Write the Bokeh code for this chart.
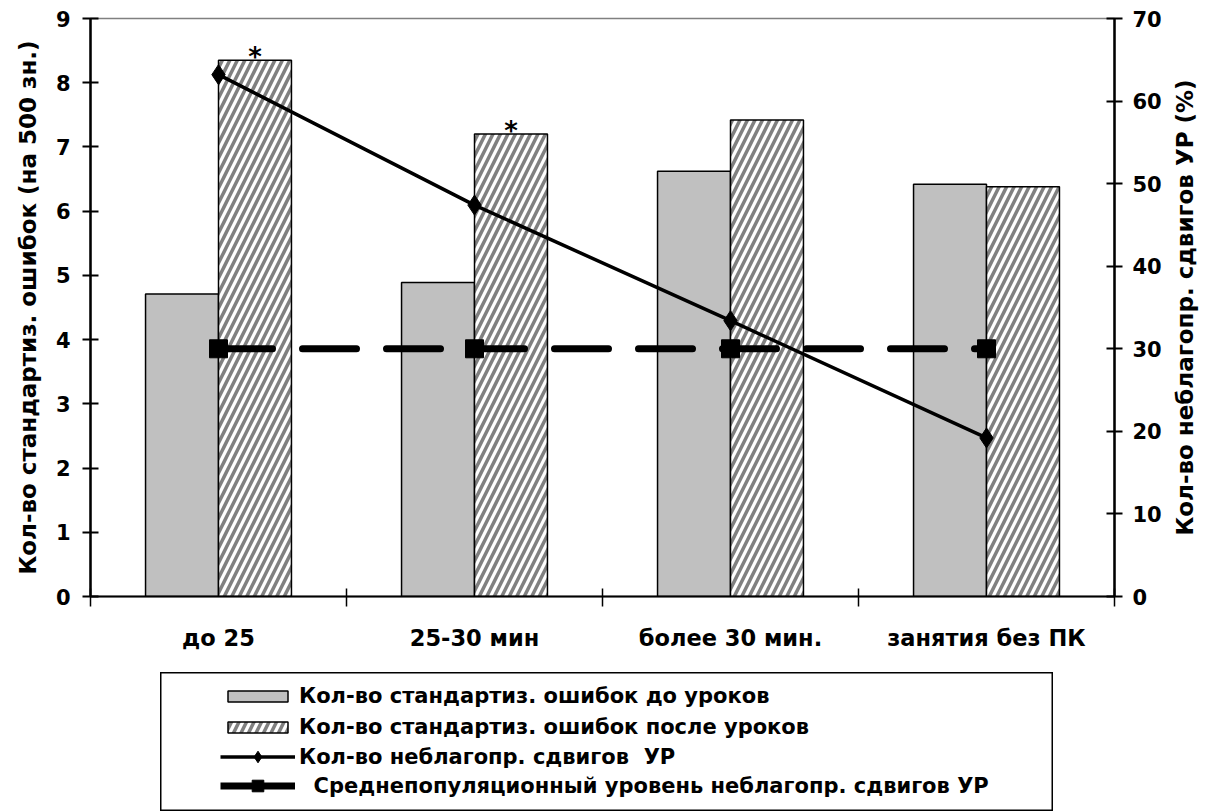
import math
from bokeh.plotting import figure
from bokeh.models import (Range1d, LinearAxis, FixedTicker, Legend, LegendItem,
                          ColumnDataSource, Spacer)
from bokeh.layouts import column, row
from bokeh.core.properties import value
from bokeh.embed import file_html
from bokeh.resources import INLINE

categories = ["до 25", "25-30 мин", "более 30 мин.", "занятия без ПК"]
errors_before = [4.71, 4.89, 6.62, 6.42]
errors_after = [8.35, 7.20, 7.42, 6.38]
shifts_pct = [63.2, 47.4, 33.4, 19.2]
population_level = [30, 30, 30, 30]
significance = ["*", "*", "", ""]
left_title = "Кол-во стандартиз. ошибок (на 500 зн.)"
right_title = "Кол-во неблагопр. сдвигов УР (%)"
legend_labels = [
    "Кол-во стандартиз. ошибок до уроков",
    "Кол-во стандартиз. ошибок после уроков",
    "Кол-во неблагопр. сдвигов  УР",
    "\u00a0\u00a0Среднепопуляционный уровень неблагопр. сдвигов УР",
]

FONT = "DejaVu Sans"
BAR_W = 0.285
GRAY = "#c0c0c0"
HATCH = dict(hatch_pattern="/", hatch_color="#808080", hatch_scale=15, hatch_weight=3.5)

centers = [i + 0.5 for i in range(len(categories))]
src = ColumnDataSource(dict(
    xb=[c - BAR_W / 2 for c in centers],
    xa=[c + BAR_W / 2 for c in centers],
    xc=centers,
    before=errors_before,
    after=errors_after,
    shifts=shifts_pct,
    pop=population_level,
    star=significance,
))

p = figure(frame_width=1024, frame_height=578,
           output_backend="svg", toolbar_location=None,
           x_range=Range1d(0, len(categories)), y_range=Range1d(0, 9),
           min_border_left=90, min_border_right=55, min_border_top=18,
           min_border_bottom=76)
p.extra_y_ranges = {"right": Range1d(0, 70)}
p.grid.visible = False
p.outline_line_color = "#808080"
p.outline_line_width = 1.5
p.background_fill_color = "white"
p.border_fill_color = "white"

p.vbar(x="xb", top="before", width=BAR_W, source=src,
       fill_color=GRAY, line_color="black", line_width=1.5)
p.vbar(x="xa", top="after", width=BAR_W, source=src,
       fill_color="white", line_color="black", line_width=1.5, **HATCH)

p.text(x="xa", y="after", text="star", source=src, text_align="center",
       text_baseline="bottom", y_offset=12, text_font=value(FONT),
       text_font_style="bold", text_font_size="26px", text_color="black")

p.line(x="xc", y="pop", source=src, y_range_name="right",
       line_color="black", line_width=7, line_dash="54 30", line_cap="round")
p.scatter(x="xc", y="pop", source=src, y_range_name="right",
          marker="square", size=18, fill_color="black", line_color="black")
p.line(x="xc", y="shifts", source=src, y_range_name="right",
       line_color="black", line_width=3.5)
p.scatter(x="xc", y="shifts", source=src, y_range_name="right",
          marker="diamond", size=20, fill_color="black", line_color="black")

# x axis: boundary ticks drawn as minor ticks, category labels at centres
xax = p.xaxis[0]
xax.ticker = FixedTicker(ticks=centers, minor_ticks=list(range(len(categories) + 1)))
xax.major_label_overrides = {c: lab for c, lab in zip(centers, categories)}
xax.major_tick_line_color = None
xax.minor_tick_in = 8
xax.minor_tick_out = 10
xax.minor_tick_line_color = "black"
xax.minor_tick_line_width = 1.5
xax.axis_line_width = 2
xax.major_label_standoff = 18
xax.major_label_text_font = FONT
xax.major_label_text_font_style = "bold"
xax.major_label_text_font_size = "22.5px"
xax.major_label_text_color = "black"

yax = p.yaxis[0]
yax.ticker = FixedTicker(ticks=list(range(0, 10)))
yax.minor_tick_line_color = None
yax.major_tick_in = 8
yax.major_tick_out = 8
yax.major_tick_line_width = 2
yax.axis_line_width = 2.5
yax.major_label_standoff = 12
yax.major_label_text_font = FONT
yax.major_label_text_font_style = "bold"
yax.major_label_text_font_size = "21px"
yax.major_label_text_color = "black"
yax.axis_label = left_title
yax.axis_label_text_font = FONT
yax.axis_label_text_font_style = "bold"
yax.axis_label_text_font_size = "23px"
yax.axis_label_text_color = "black"
yax.axis_label_standoff = 12

rax = LinearAxis(y_range_name="right", ticker=FixedTicker(ticks=list(range(0, 71, 10))))
rax.minor_tick_line_color = None
rax.major_tick_in = 8
rax.major_tick_out = 8
rax.major_tick_line_width = 2
rax.axis_line_width = 2.5
rax.major_label_standoff = 10
rax.major_label_text_font = FONT
rax.major_label_text_font_style = "bold"
rax.major_label_text_font_size = "21px"
rax.major_label_text_color = "black"
p.add_layout(rax, "right")

# thin strip to the right carrying the right-hand axis title (reads bottom-to-top)
side = figure(frame_width=4, frame_height=578,
              output_backend="svg", toolbar_location=None,
              x_axis_location=None, y_axis_location="left",
              min_border_left=38, min_border_right=0, min_border_top=18,
              min_border_bottom=76, x_range=Range1d(0, 1), y_range=Range1d(0, 70))
side.grid.visible = False
side.outline_line_color = None
side.border_fill_color = "white"
side.background_fill_color = "white"
side.scatter(x=[0.5], y=[35], size=0, alpha=0)
sax = side.yaxis[0]
sax.ticker = FixedTicker(ticks=[35])
sax.major_label_overrides = {35: " "}
sax.axis_line_color = None
sax.major_tick_line_color = None
sax.minor_tick_line_color = None
sax.major_tick_out = 0
sax.major_tick_in = 0
sax.major_label_standoff = 0
sax.major_label_text_font_size = "1px"
sax.axis_label = right_title
sax.axis_label_text_font = FONT
sax.axis_label_text_font_style = "bold"
sax.axis_label_text_font_size = "23px"
sax.axis_label_text_color = "black"
sax.axis_label_standoff = 6

# legend panel (framed box below the chart); proxies draw the shared data off-view
lg = figure(width=893, height=139, output_backend="svg", toolbar_location=None,
            x_axis_location=None, y_axis_location=None, min_border=0,
            x_range=Range1d(100, 101), y_range=Range1d(100, 101))
lg.grid.visible = False
lg.outline_line_color = "black"
lg.outline_line_width = 2
lg.background_fill_color = "white"
lg.border_fill_color = "white"
l1 = lg.vbar(x="xb", top="before", width=BAR_W, source=src,
             fill_color=GRAY, line_color="black", line_width=1.5)
l2 = lg.vbar(x="xa", top="after", width=BAR_W, source=src,
             fill_color="white", line_color="black", line_width=1.5, **HATCH)
l3a = lg.line(x="xc", y="shifts", source=src, line_color="black", line_width=3.5)
l3b = lg.scatter(x="xc", y="shifts", source=src, marker="diamond", size=13,
                 fill_color="black", line_color="black")
l4a = lg.line(x="xc", y="pop", source=src, line_color="black", line_width=7)
l4b = lg.scatter(x="xc", y="pop", source=src, marker="square", size=15,
                 fill_color="black", line_color="black")


def style_legend(leg, glyph_h, spacing):
    leg.label_text_font = FONT
    leg.label_text_font_style = "bold"
    leg.label_text_font_size = "21px"
    leg.label_text_color = "black"
    leg.glyph_width = 75
    leg.glyph_height = glyph_h
    leg.label_height = 22
    leg.spacing = spacing
    leg.padding = 8
    leg.margin = 0
    leg.label_standoff = 4
    leg.border_line_color = None
    leg.background_fill_color = None


legend_bars = Legend(items=[
    LegendItem(label=legend_labels[0], renderers=[l1]),
    LegendItem(label=legend_labels[1], renderers=[l2]),
], location=(60, 72), orientation="vertical")
style_legend(legend_bars, 14, 7)
lg.add_layout(legend_bars, "center")

legend_lines = Legend(items=[
    LegendItem(label=legend_labels[2], renderers=[l3a, l3b]),
    LegendItem(label=legend_labels[3], renderers=[l4a, l4b]),
], location=(60, 11), orientation="vertical")
style_legend(legend_lines, 29, 0)
lg.add_layout(legend_lines, "center")

layout = column(row(p, side), row(Spacer(width=160, height=139), lg))

open("out.html", "w").write(file_html(layout, INLINE))
